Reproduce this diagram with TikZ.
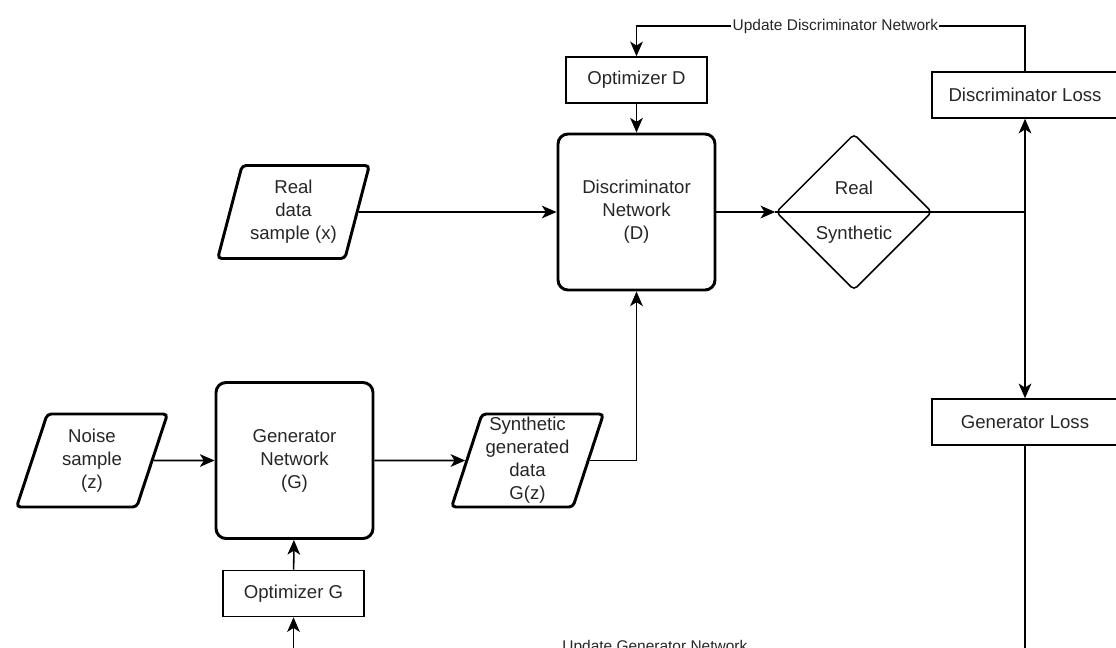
\documentclass[tikz,border=0pt]{standalone}
\usepackage{fontspec}
\setmainfont{Liberation Sans}
\usetikzlibrary{shapes.geometric,arrows.meta}
\newlength{\pxu}
\setlength{\pxu}{0.75pt}
\begin{document}
\begin{tikzpicture}[x=0.75pt, y=-0.75pt,
  txtfont/.style={font=\fontsize{13.95}{17.25}\selectfont, text=black!85},
  box/.style={draw, line width=1.15pt, minimum width=141\pxu, minimum height=46\pxu, inner sep=0pt, txtfont},
  lossbox/.style={box, minimum width=186\pxu},
  net/.style={draw, line width=2.2pt, rounded corners=7.5pt, minimum width=157\pxu, minimum height=156\pxu, align=center, inner sep=0pt, txtfont},
  io/.style={trapezium, trapezium left angle=72, trapezium right angle=108, trapezium stretches=true, draw, line width=2.2pt, rounded corners=4\pxu, minimum width=152\pxu, minimum height=93\pxu, align=center, inner sep=0pt, txtfont},
  dec/.style={diamond, aspect=1, draw, line width=1.15pt, rounded corners=4\pxu, minimum width=156\pxu, minimum height=156\pxu, inner sep=0pt},
  txt/.style={txtfont, inner sep=1pt},
  lbl/.style={font=\fontsize{11.6}{14}\selectfont, text=black!85, fill=white, inner sep=1pt},
  conn/.style={line width=1.15pt},
  arr/.style={conn, -{Stealth[length=11pt, width=9.5pt, inset=3pt]}}
]
\useasboundingbox (0,0) rectangle (1116,647);

% nodes
\node[box] (optD) at (636.5,80) {Optimizer D};
\node[net] (D) at (636.5,212) {Discriminator\\Network\\(D)};
\node[io] (real) at (293.5,212) {Real\\data\\sample (x)};
\node[dec] (dia) at (854,212) {};
\node[txt] (dreal) at (854,188) {Real};
\node[txt] (dsyn) at (854,235) {Synthetic};
\node[lossbox] (dloss) at (1025,95) {Discriminator Loss};
\node[lossbox] (gloss) at (1025,422) {Generator Loss};
\node[io] (noise) at (92,460.5) {Noise\\sample\\(z)};
\node[net] (G) at (294.5,460.5) {Generator\\Network\\(G)};
\node[io] (synth) at (527.5,460.5) {Synthetic\\generated\\data\\G(z)};
\node[box] (optG) at (293.5,593.5) {Optimizer G};

% connectors
\draw[arr] (optD) -- (D);
\draw[arr] (real) -- (D);
\draw[arr] (D) -- (dia);
\draw[conn] (dia.west) -- (dia.east);
\coordinate (j) at (1025,212);
\draw[conn] (dia) -- (j);
\draw[arr] (j) -- (dloss);
\draw[arr] (j) -- (gloss);
\coordinate (tr) at (1025,26);
\coordinate (tl) at (636.5,26);
\draw[arr] (dloss) -- (tr) -- node[lbl, pos=0.488] (ulD) {Update Discriminator Network} (tl) -- (optD);

\coordinate (br) at (1025,653);
\coordinate (bl) at (293.5,653);
\draw[arr] (gloss) -- (br) -- node[lbl, pos=0.506, yshift=4.5pt] (ulG) {Update Generator Network} (bl) -- (optG);

\draw[arr] (optG) -- (G);
\draw[arr] (noise) -- (G);
\draw[arr] (G) -- (synth);
\draw[arr] (synth) -| (D);
\end{tikzpicture}
\end{document}
